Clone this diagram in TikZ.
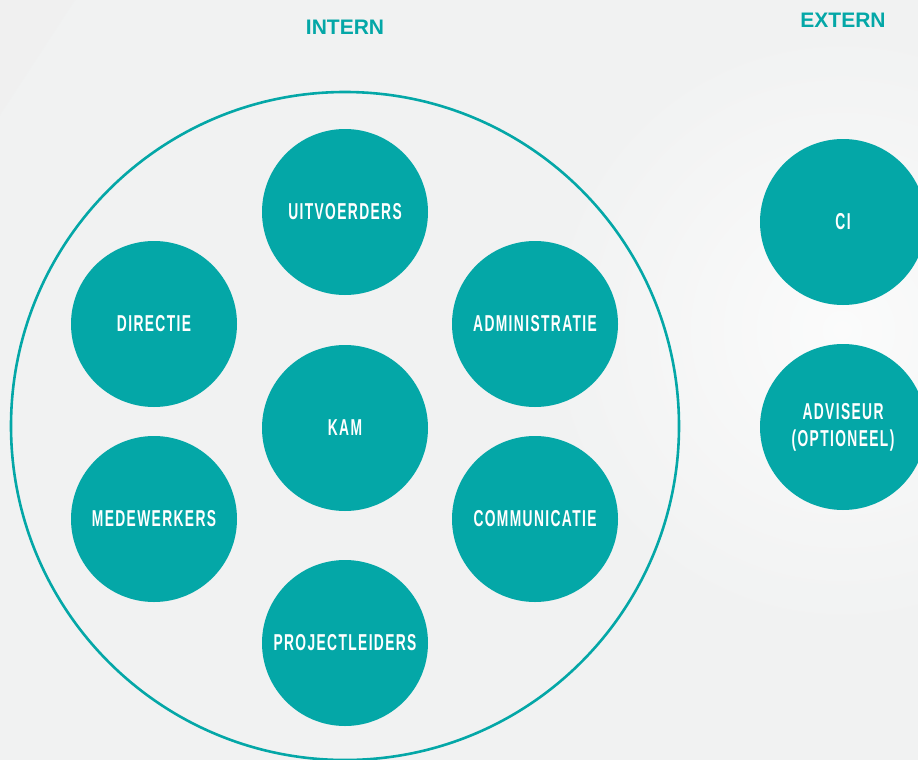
\documentclass[tikz,border=0pt]{standalone}
\usepackage{fontspec}
\usepackage{tikz}
\setmainfont{Liberation Sans}
\newfontfamily\labelfont{Liberation Sans}[FakeStretch=0.6, LetterSpace=6]

\definecolor{teal}{HTML}{04A7A7}
\definecolor{bggray}{HTML}{F1F2F2}

\tikzset{
  team/.style={circle, fill=teal, minimum size=166pt, inner sep=0pt,
    text=white, align=center, font=\labelfont\bfseries\fontsize{23}{27}\selectfont},
  header/.style={text=teal, font=\bfseries\fontsize{21}{25}\selectfont}
}

\begin{document}
\begin{tikzpicture}[x=1pt, y=-1pt]
  % Background
  \useasboundingbox (0,0) rectangle (918,760);
  \fill[bggray] (0,0) rectangle (918,760);
  \shade[inner color=white!70!bggray, outer color=bggray] (842,330) circle (300pt);
  \fill[black!6, opacity=0.6] (0,0) -- (75,0) -- (0,115) -- cycle;

  % Headers
  \node[header] (intern-label) at (345,27) {INTERN};
  \node[header] (extern-label) at (843,20) {EXTERN};

  % Intern circle
  \node[circle, draw=teal, line width=2.6pt, minimum size=668pt, inner sep=0pt] (intern) at (345,426) {};

  % Intern teams
  \foreach \name/\x/\y/\txt in {uitvoerders/345/212/UITVOERDERS,
      directie/154/324/DIRECTIE, administratie/535/324/ADMINISTRATIE,
      kam/345/428/KAM, medewerkers/154/519/MEDEWERKERS,
      communicatie/535/519/COMMUNICATIE, projectleiders/345/643/PROJECTLEIDERS}
      \node[team] (\name) at (\x,\y) {\txt};

  % Extern teams
  \node[team] (ci) at (843,222) {CI};
  \node[team] (adviseur) at (843,427) {ADVISEUR\\(OPTIONEEL)};
\end{tikzpicture}
\end{document}
